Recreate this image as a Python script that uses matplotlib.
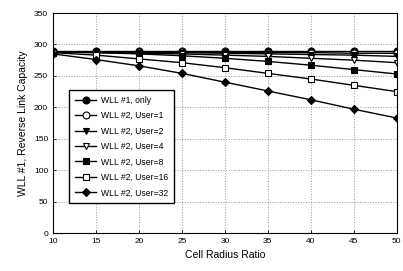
import matplotlib
matplotlib.use("Agg")
import matplotlib.pyplot as plt

plt.rcParams['font.family'] = ['Liberation Sans', 'DejaVu Sans']

# cell radius ratio
radius = [10, 15, 20, 25, 30, 35, 40, 45, 50]

# reverse link capacity of WLL #1
wll1_only = [290, 290, 290, 290, 290, 290, 290, 290, 290]
user1 = [288, 288, 288, 288, 287, 287, 287, 286, 286]
user2 = [288, 288, 287, 287, 286, 285, 284, 283, 281]
user4 = [288, 287, 286, 285, 283, 281, 278, 275, 271]
user8 = [288, 287, 285, 282, 278, 273, 267, 260, 253]
user16 = [287, 283, 277, 271, 263, 254, 245, 235, 225]
user32 = [285, 276, 266, 254, 240, 226, 212, 197, 183]

labels = ['WLL #1, only', 'WLL #2, User=1', 'WLL #2, User=2',
          'WLL #2, User=4', 'WLL #2, User=8', 'WLL #2, User=16',
          'WLL #2, User=32']
series = [wll1_only, user1, user2, user4, user8, user16, user32]
markers = ['o', 'o', 'v', 'v', 's', 's', 'D']
filled = [True, False, True, False, True, False, True]

fig = plt.figure(figsize=(4.03, 2.71), dpi=100)
ax = fig.add_axes([0.1315, 0.14, 0.853, 0.812])

for vals, lab, m, f in zip(series, labels, markers, filled):
    ax.plot(radius, vals, color='black', linewidth=1.0, marker=m,
            markersize=5 if m != 'D' else 4.2,
            markerfacecolor='black' if f else 'white',
            markeredgecolor='black', markeredgewidth=0.8, label=lab)

ax.set_xlim(10, 50)
ax.set_ylim(0, 350)
ax.set_xticks(radius)
ax.set_yticks(range(0, 351, 50))
ax.tick_params(labelsize=6, length=2, width=0.6, direction='in')
ax.grid(True, linestyle=':', color='#999999', linewidth=0.7)
for s in ax.spines.values():
    s.set_linewidth(0.8)

ax.set_xlabel('Cell Radius Ratio', fontsize=7.5)
ax.set_ylabel('WLL #1, Reverse Link Capacity', fontsize=7.5)

ax.legend(loc='lower left', bbox_to_anchor=(0.035, 0.115), fontsize=6.2,
          frameon=True, fancybox=False, edgecolor='black', framealpha=1,
          handlelength=2.4, labelspacing=0.75, borderpad=0.7,
          handletextpad=0.6)

fig.savefig('out.png', dpi=100)
